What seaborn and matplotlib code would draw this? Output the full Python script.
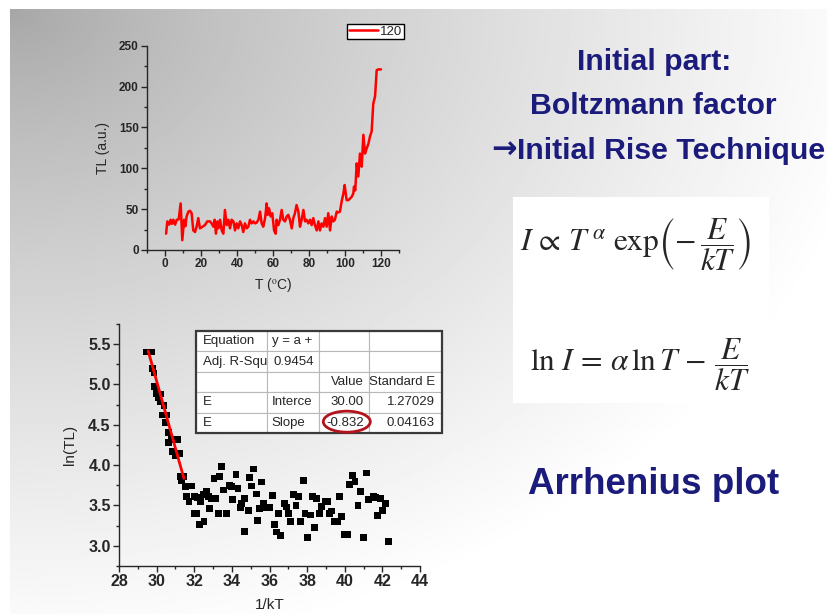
import numpy as np
import matplotlib.pyplot as plt
import seaborn as sns
from matplotlib.patches import Ellipse, Rectangle

# ==============================
# DATA
# ==============================
temp_c = [0.6, 1.3, 2.4, 3.1, 3.9, 4.6, 5.6, 6.5, 7.6, 8.7,
          9.6, 10.6, 11.3, 12.0, 13.0, 13.9, 14.8, 15.7, 16.7, 17.6,
          18.5, 19.4, 20.9, 22.2, 23.5, 25.0, 25.9, 26.9, 27.6, 28.3,
          29.1, 29.6, 30.6, 31.5, 32.4, 33.3, 34.3, 35.2, 36.1, 37.0,
          38.0, 38.9, 39.8, 40.7, 41.7, 42.6, 43.5, 44.4, 45.4, 46.3,
          47.2, 48.1, 49.1, 50.0, 50.9, 51.9, 52.8, 53.7, 54.6, 55.6,
          56.5, 57.0, 57.8, 58.7, 59.6, 60.6, 61.5, 62.0, 63.0, 63.9,
          64.8, 65.7, 66.7, 67.6, 68.5, 69.4, 70.4, 71.3, 72.2, 73.1,
          74.1, 75.0, 75.9, 76.9, 77.8, 78.7, 79.6, 80.6, 81.5, 82.4,
          83.3, 84.3, 85.2, 86.1, 87.0, 88.0, 88.9, 89.8, 90.7, 91.7,
          92.6, 93.5, 94.4, 95.4, 96.3, 97.2, 98.1, 99.1, 99.8, 100.9,
          101.9, 102.8, 103.7, 104.6, 105.0, 105.7, 106.5, 107.4, 108.3, 109.3,
          110.2, 111.1, 112.0, 113.0, 113.9, 114.8, 115.7, 116.7, 117.6, 118.5,
          120.0]
tl_counts = [20, 35, 31, 37, 32, 37, 31, 37, 37.5, 57,
             12, 37, 29, 41, 47, 48, 45, 24, 22, 29,
             39, 26.5, 28.5, 30.5, 35, 35, 32.6, 28.5, 37, 20,
             35, 26.5, 37, 24, 20, 49, 30.5, 37, 26.5, 37,
             35, 24, 32.6, 26.5, 35, 30.5, 22, 32.6, 26.5, 28.5,
             37, 32.6, 35, 32.6, 33.4, 37, 47, 32.6, 28.5, 39,
             57, 43, 51, 41, 45, 24, 20, 37, 30.5, 37,
             49, 37, 35, 41, 43, 37, 26.5, 39, 45, 55,
             47, 28.5, 37, 49, 35, 37, 32.6, 37, 30.5, 39,
             30.5, 24, 35, 24, 32.6, 28.5, 39, 28.5, 45, 24,
             41, 35, 37, 47, 46, 47, 59, 69, 79.5, 61,
             61, 63, 65, 69, 77.5, 73, 106, 90, 118, 102,
             141, 118, 124, 130, 139, 145, 179, 188, 220, 221,
             221]

inv_kt = [29.47, 29.74, 29.79, 29.86, 29.88, 30.00, 30.22, 30.09, 30.18, 30.39,
          30.30, 30.54, 30.45, 30.62, 30.62, 30.80, 31.10, 30.85, 30.98, 31.21,
          31.24, 31.46, 31.33, 31.55, 31.60, 31.72, 31.87, 31.99, 32.13, 32.00,
          32.17, 32.27, 32.34, 32.49, 32.66, 32.75, 32.93, 32.52, 32.80, 33.05,
          33.34, 33.14, 33.27, 33.73, 33.46, 33.55, 33.87, 33.99, 34.05, 34.22,
          34.33, 34.44, 34.51, 34.65, 34.65, 34.88, 34.93, 35.06, 35.15, 35.29,
          35.36, 35.47, 35.59, 35.68, 35.86, 36.03, 36.16, 36.26, 36.39, 36.60,
          36.47, 36.79, 36.92, 37.00, 37.13, 37.27, 37.54, 37.41, 37.63, 37.80,
          37.89, 38.04, 38.16, 38.30, 38.51, 38.41, 38.66, 38.78, 38.96, 39.08,
          39.19, 39.31, 39.44, 39.61, 39.72, 39.84, 39.97, 40.15, 40.25, 40.41,
          40.55, 40.70, 40.85, 41.00, 41.14, 41.26, 41.53, 41.65, 41.74, 41.88,
          42.02, 42.15, 42.33]
ln_tl = [5.40, 5.40, 5.20, 5.14, 4.97, 4.89, 4.88, 4.83, 4.78, 4.74,
         4.62, 4.62, 4.53, 4.40, 4.28, 4.32, 4.32, 4.17, 4.12, 4.14,
         3.86, 3.86, 3.81, 3.73, 3.61, 3.55, 3.74, 3.40, 3.40, 3.61,
         3.60, 3.26, 3.55, 3.63, 3.67, 3.61, 3.59, 3.30, 3.46, 3.83,
         3.86, 3.59, 3.40, 3.40, 3.98, 3.69, 3.75, 3.73, 3.57, 3.88,
         3.71, 3.47, 3.52, 3.59, 3.18, 3.44, 3.85, 3.74, 3.95, 3.64,
         3.31, 3.46, 3.79, 3.52, 3.47, 3.47, 3.62, 3.26, 3.17, 3.13,
         3.40, 3.52, 3.48, 3.40, 3.30, 3.63, 3.61, 3.50, 3.30, 3.81,
         3.40, 3.10, 3.38, 3.61, 3.59, 3.23, 3.40, 3.49, 3.55, 3.55,
         3.40, 3.43, 3.30, 3.30, 3.61, 3.36, 3.14, 3.14, 3.76, 3.87,
         3.80, 3.50, 3.67, 3.10, 3.90, 3.57, 3.61, 3.60, 3.37, 3.59,
         3.44, 3.52, 3.05]

# linear fit reported in the table
fit_intercept = 30.00
fit_slope = -0.832
fit_x_range = [29.55, 31.45]

table_cells = [
    ["Equation", "y = a +", "", ""],
    ["Adj. R-Squ", "0.9454", "", ""],
    ["", "", "Value", "Standard E"],
    ["E", "Interce", "30.00", "1.27029"],
    ["E", "Slope", "-0.832", "0.04163"],
]

# ==============================
# STYLE
# ==============================
sns.set_style("ticks")
plt.rcParams['font.family'] = ['Liberation Sans', 'DejaVu Sans']
plt.rcParams['mathtext.fontset'] = 'stix'
plt.rcParams['axes.linewidth'] = 1.0

W, H = 828, 614
navy = "#1b1b7c"


def px_box(x0, y0, x1, y1):
    # pixel box (top-left origin) -> figure fraction rect
    return [x0 / W, 1 - y1 / H, (x1 - x0) / W, (y1 - y0) / H]


fig = plt.figure(figsize=(8.28, 6.14), dpi=100)

# slide background: radial grey gradient from the top-left corner
bg = fig.add_axes(px_box(10, 9, 828, 614), zorder=-10)
gx, gy = np.meshgrid(np.linspace(0, 1, 400), np.linspace(0, 1, 400))
radius = np.sqrt(gx ** 2 + gy ** 2)
shade = np.clip(0.65 + 0.33 * radius ** 0.8, 0, 1)
bg.imshow(shade, cmap="gray", vmin=0, vmax=1, aspect="auto", extent=[0, 1, 1, 0])
bg.axis("off")

# ==============================
# TOP: TL glow curve
# ==============================
ax1 = fig.add_axes(px_box(147, 45.7, 399, 250))
ax1.set_facecolor("none")
sns.lineplot(x=temp_c, y=tl_counts, ax=ax1, color="red", lw=1.8,
             estimator=None, sort=False, label="120")
ax1.set_xlim(-10, 130)
ax1.set_ylim(0, 250)
ax1.set_xticks(range(0, 121, 20), labels=[str(v) for v in range(0, 121, 20)],
               fontweight="bold")
ax1.set_yticks(range(0, 251, 50), labels=[str(v) for v in range(0, 251, 50)],
               fontweight="bold")
ax1.set_xticks(range(-10, 131, 20), minor=True)
ax1.set_yticks(range(25, 250, 50), minor=True)
ax1.tick_params(which="major", direction="out", length=4, width=1, labelsize=8.5, pad=2)
ax1.tick_params(which="minor", direction="out", length=2, width=1)
ax1.set_xlabel(r"T ($^{\rm o}$C)", fontsize=10, labelpad=4)
ax1.set_ylabel("TL (a.u.)", fontsize=10, labelpad=6)
sns.despine(ax=ax1)
ax1.legend(loc="upper right", bbox_to_anchor=(404 / W, 1 - 24 / H),
           bbox_transform=fig.transFigure, frameon=True, fancybox=False,
           edgecolor="black", framealpha=1, fontsize=9.5, handlelength=2.2,
           borderpad=0.1, handletextpad=0.2, borderaxespad=0)

# ==============================
# BOTTOM: Arrhenius plot
# ==============================
ax2 = fig.add_axes(px_box(119, 323.8, 420, 565.9))
ax2.set_facecolor("none")
sns.scatterplot(x=inv_kt, y=ln_tl, ax=ax2, marker="s", s=24, color="black",
                edgecolor="none", zorder=3)
fit_x = np.array(fit_x_range)
sns.lineplot(x=fit_x, y=fit_intercept + fit_slope * fit_x, ax=ax2,
             color="red", lw=2, zorder=4)
ax2.set_xlim(28, 44)
ax2.set_ylim(2.75, 5.75)
ax2.set_xticks(range(28, 45, 2), labels=[str(v) for v in range(28, 45, 2)],
               fontweight="bold")
y_major = [3.0, 3.5, 4.0, 4.5, 5.0, 5.5]
ax2.set_yticks(y_major, labels=[f"{v:.1f}" for v in y_major], fontweight="bold")
ax2.set_xticks(range(29, 44, 2), minor=True)
ax2.set_yticks([2.75, 3.25, 3.75, 4.25, 4.75, 5.25, 5.75], minor=True)
ax2.tick_params(which="major", direction="out", length=4, width=1, labelsize=11.5, pad=2)
ax2.tick_params(which="minor", direction="out", length=2, width=1)
ax2.set_xlabel("1/kT", fontsize=11, labelpad=6)
ax2.set_ylabel("ln(TL)", fontsize=11, labelpad=8)
sns.despine(ax=ax2)

# fit result table
tax = fig.add_axes(px_box(196, 331, 442, 433))
tax.axis("off")
col_px = [70.7, 52.6, 49.7, 73.3]
tbl = tax.table(cellText=table_cells, bbox=[0, 0, 1, 1], cellLoc="left",
                colWidths=[c / sum(col_px) for c in col_px])
tbl.auto_set_font_size(False)
right_cells = {(1, 1), (2, 2), (3, 2), (4, 2), (2, 3), (3, 3), (4, 3)}
for (r, c), cell in tbl.get_celld().items():
    cell.set_edgecolor("#b8b8b8")
    cell.set_linewidth(0.8)
    cell.set_facecolor("white")
    cell.get_text().set_fontsize(9.5)
    if (r, c) in right_cells:
        cell._loc = "right"
        cell.get_text().set_horizontalalignment("right")
tax.add_patch(Rectangle((0, 0), 1, 1, transform=tax.transAxes, fill=False,
                        edgecolor="#3a3a3a", lw=1.6, clip_on=False, zorder=5))
tax.add_patch(Ellipse((0.613, 0.111), 0.191, 0.206, transform=tax.transAxes,
                      fill=False, edgecolor="#b3141c", lw=2, clip_on=False, zorder=6))

# ==============================
# RIGHT: slide text and formulas
# ==============================
fig.text(654 / W, 1 - 62 / H, "Initial part:", ha="center", va="center",
         fontsize=21.8, fontweight="bold", color=navy)
fig.text(653 / W, 1 - 106 / H, "Boltzmann factor", ha="center", va="center",
         fontsize=21.8, fontweight="bold", color=navy)
fig.text(517 / W, 1 - 151 / H, "Initial Rise Technique", ha="left",
         va="center", fontsize=21.8, fontweight="bold", color=navy)
fig.text(517 / W, 1 - 150 / H, "\u2192", ha="right", va="center",
         fontsize=22, fontweight="bold", color=navy, family=["DejaVu Sans"])
fig.text(654 / W, 1 - 485 / H, "Arrhenius plot", ha="center", va="center",
         fontsize=26.5, fontweight="bold", color=navy)

fig.add_artist(Rectangle((513 / W, 1 - 403 / H), 256 / W, 206 / H,
                         transform=fig.transFigure, facecolor="white",
                         edgecolor="none", zorder=1))
fig.text(635 / W, 1 - 245 / H,
         r"$I\,\propto\,T^{\,\alpha}\ \mathrm{exp}\left(-\,\dfrac{E}{kT}\right)$",
         ha="center", va="center", fontsize=22.5, zorder=2)
fig.text(640 / W, 1 - 365 / H,
         r"$\ln\,I\,=\,\alpha\,\ln T\,-\,\dfrac{E}{kT}$",
         ha="center", va="center", fontsize=22.5, zorder=2)

fig.savefig("out.png", dpi=100)
